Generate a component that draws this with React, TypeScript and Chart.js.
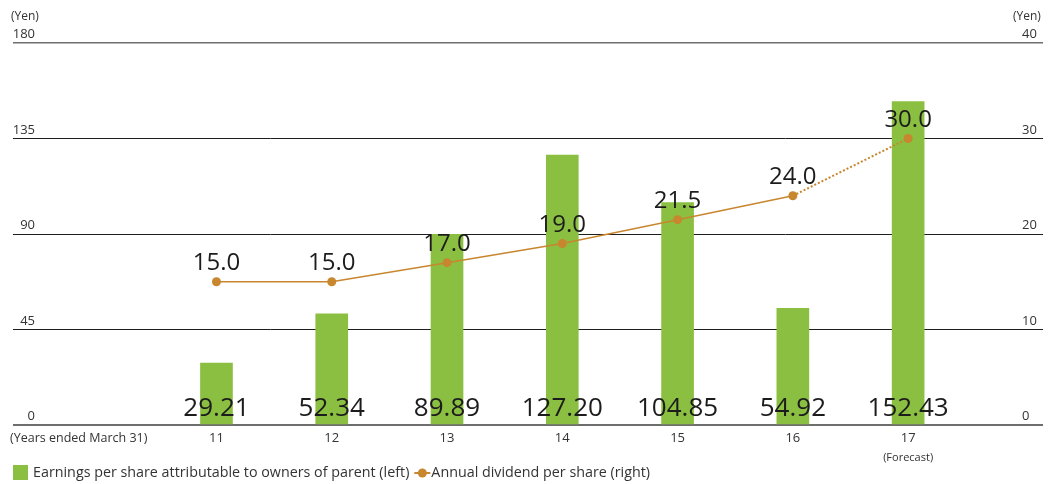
import React, { useEffect, useRef } from "react";
import { Chart, registerables } from "chart.js";

Chart.register(...registerables);

const years = ["11", "12", "13", "14", "15", "16", "17"];
const eps = [29.21, 52.34, 89.89, 127.2, 104.85, 54.92, 152.43];
const epsLabels = ["29.21", "52.34", "89.89", "127.20", "104.85", "54.92", "152.43"];
const dividend = [15.0, 15.0, 17.0, 19.0, 21.5, 24.0, 30.0];
const dividendLabels = ["15.0", "15.0", "17.0", "19.0", "21.5", "24.0", "30.0"];
const leftTicks = [0, 45, 90, 135, 180];
const rightTicks = [0, 10, 20, 30, 40];
const xNote = "(Years ended March 31)";
const forecastNote = "(Forecast)";
const legendBar = "Earnings per share attributable to owners of parent (left)";
const legendLine = "Annual dividend per share (right)";
const unit = "(Yen)";

const GREEN = "#8BBF41";
const ORANGE = "#C8862E";
const FONT = "'Open Sans', 'Noto Sans', sans-serif";

const overlay = {
  id: "overlay",
  afterDatasetsDraw(chart: any) {
    const ctx = chart.ctx;
    const x = chart.scales.x;
    const y = chart.scales.y;
    const y2 = chart.scales.y2;
    ctx.save();
    // axis labels
    ctx.fillStyle = "#333";
    ctx.font = `13px ${FONT}`;
    ctx.textBaseline = "alphabetic";
    ctx.textAlign = "right";
    leftTicks.forEach((t) => ctx.fillText(String(t), 35, y.getPixelForValue(t) - 5));
    ctx.textAlign = "left";
    rightTicks.forEach((t) => ctx.fillText(String(t), 1022, y2.getPixelForValue(t) - 5));
    ctx.font = `12px ${FONT}`;
    ctx.fillText(unit, 11, 20);
    ctx.fillText(unit, 1013, 20);
    // x labels
    ctx.font = `13px ${FONT}`;
    ctx.textAlign = "center";
    ctx.textBaseline = "middle";
    years.forEach((lab, i) => ctx.fillText(lab, x.getPixelForValue(i), 438));
    ctx.font = `11px ${FONT}`;
    ctx.fillText(forecastNote, x.getPixelForValue(6), 458);
    ctx.font = `12.5px ${FONT}`;
    ctx.textAlign = "left";
    ctx.fillText(xNote, 10, 438);
    // bar value labels
    ctx.fillStyle = "#1c1c1c";
    ctx.font = `26px ${FONT}`;
    ctx.textAlign = "center";
    ctx.textBaseline = "alphabetic";
    epsLabels.forEach((lab, i) => ctx.fillText(lab, x.getPixelForValue(i), y.getPixelForValue(0) - 9));
    // dividend labels
    ctx.font = `24px ${FONT}`;
    dividendLabels.forEach((lab, i) =>
      ctx.fillText(lab, x.getPixelForValue(i), y2.getPixelForValue(dividend[i]) - 12)
    );
    // legend
    ctx.fillStyle = GREEN;
    ctx.fillRect(13, 465, 15, 15);
    ctx.fillStyle = "#333";
    ctx.font = `14.3px ${FONT}`;
    ctx.textAlign = "left";
    ctx.textBaseline = "middle";
    ctx.fillText(legendBar, 33, 473);
    const w = ctx.measureText(legendBar).width;
    const lx = 33 + w + 5;
    ctx.strokeStyle = ORANGE;
    ctx.lineWidth = 2;
    ctx.beginPath();
    ctx.moveTo(lx, 473);
    ctx.lineTo(lx + 16, 473);
    ctx.stroke();
    ctx.fillStyle = ORANGE;
    ctx.beginPath();
    ctx.arc(lx + 8, 473, 4.5, 0, Math.PI * 2);
    ctx.fill();
    ctx.fillStyle = "#333";
    ctx.fillText(legendLine, lx + 17, 473);
    ctx.restore();
  },
};

export default function App() {
  const ref = useRef<HTMLCanvasElement>(null);
  useEffect(() => {
    if (!ref.current) return;
    const chart = new Chart(ref.current, {
      data: {
        datasets: [
          {
            type: "line",
            label: legendLine,
            data: dividend.map((v, i) => ({ x: i, y: v })),
            yAxisID: "y2",
            borderColor: ORANGE,
            backgroundColor: ORANGE,
            borderWidth: 1.5,
            pointRadius: 4.5,
            pointBorderWidth: 0,
            segment: {
              borderDash: (c: any) => (c.p1DataIndex === 6 ? [2, 2] : undefined),
              borderWidth: (c: any) => (c.p1DataIndex === 6 ? 2 : 1.5),
            },
            order: 0,
          },
          {
            type: "bar",
            label: legendBar,
            data: eps.map((v, i) => ({ x: i, y: v })),
            yAxisID: "y",
            backgroundColor: GREEN,
            barThickness: 32,
            order: 1,
          },
        ],
      } as any,
      options: {
        animation: false,
        responsive: true,
        maintainAspectRatio: false,
        layout: { padding: { left: 13, right: 7, top: 43, bottom: 59 } },
        plugins: { legend: { display: false }, tooltip: { enabled: false } },
        scales: {
          x: {
            type: "linear",
            min: -1.765,
            max: 7.17,
            offset: false,
            display: false,
          },
          y: {
            position: "left",
            min: 0,
            max: 180,
            ticks: { display: false, stepSize: 45 },
            border: { display: false },
            grid: {
              drawTicks: false,
              color: (c: any) => (c.tick && (c.tick.value === 180 || c.tick.value === 0) ? "#6e6e6e" : "#1e1e1e"),
              lineWidth: (c: any) => (c.tick && c.tick.value === 0 ? 2 : c.tick && c.tick.value === 180 ? 1.5 : 1),
            },
          },
          y2: {
            position: "right",
            min: 0,
            max: 40,
            display: false,
            grid: { display: false },
          },
        },
      } as any,
      plugins: [overlay],
    });
    return () => chart.destroy();
  }, []);
  return (
    <div style={{ position: "fixed", left: 0, top: 0, width: 1050, height: 484, background: "#fff" }}>
      <canvas ref={ref} />
    </div>
  );
}
